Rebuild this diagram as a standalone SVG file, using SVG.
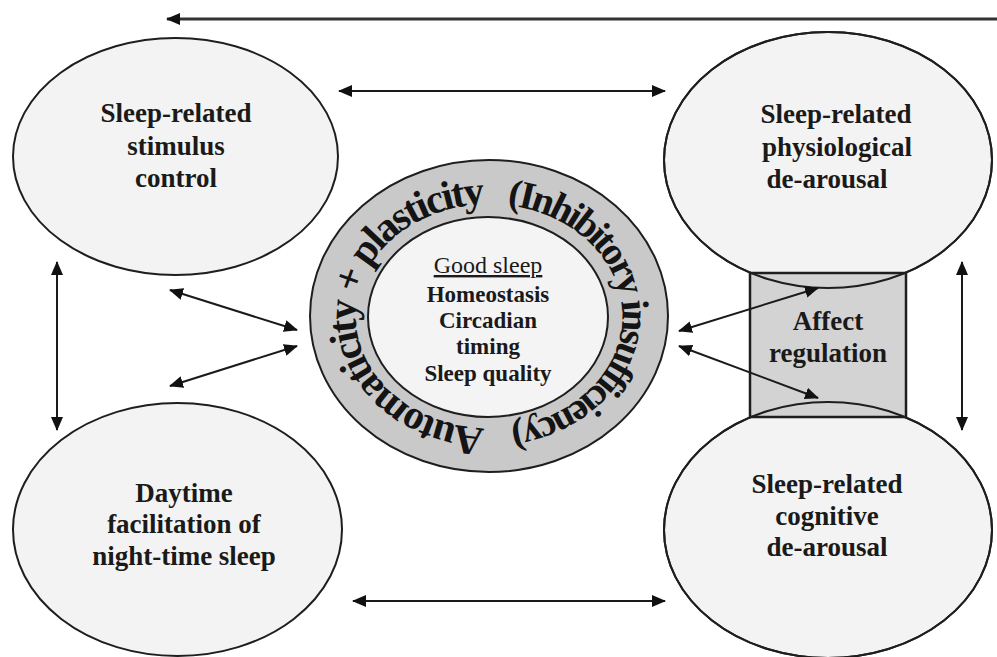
<svg xmlns="http://www.w3.org/2000/svg" xmlns:xlink="http://www.w3.org/1999/xlink" width="997" height="657" viewBox="0 0 997 657">
  <style>
    .node { fill: #f3f3f3; stroke: #1e1e1e; stroke-width: 2; }
    .outline { fill: none; stroke: #1e1e1e; stroke-width: 2; }
    .label { font-family: "Liberation Serif", "Times New Roman", serif; font-weight: bold; font-size: 27px; fill: #1a1a1a; text-anchor: middle; }
    .inner { font-family: "Liberation Serif", "Times New Roman", serif; font-weight: bold; font-size: 23px; fill: #1a1a1a; text-anchor: middle; }
    .ring-text { font-family: "Liberation Serif", "Times New Roman", serif; font-weight: bold; font-size: 41px; fill: #141414; }
    .conn { stroke: #1a1a1a; stroke-width: 2; fill: none; marker-start: url(#head); marker-end: url(#head); }
  </style>
  <defs>
    <marker id="head" viewBox="0 0 14 12" refX="13" refY="6" markerWidth="14" markerHeight="12" markerUnits="userSpaceOnUse" orient="auto-start-reverse">
      <path d="M0,0 L14,6 L0,12 z" fill="#111"/>
    </marker>
    <ellipse id="shape-physio" cx="828" cy="160" rx="164" ry="128"/>
    <ellipse id="shape-cog" cx="828" cy="530" rx="164" ry="128"/>
    <!-- baseline of the ring caption: full ellipse starting just left of the bottom, running clockwise -->
    <path id="ring-path" d="M484.32,427.93 A134,112 0 0 1 493.68,204.07 A134,112 0 0 1 484.32,427.93"/>
  </defs>

  <rect width="997" height="657" fill="#ffffff"/>

  <!-- nodes -->
  <g id="stimulus-control">
    <ellipse class="node" cx="175.5" cy="156.5" rx="162.5" ry="118.5"/>
    <text class="label" x="176" y="122">Sleep-related</text>
    <text class="label" x="176" y="155">stimulus</text>
    <text class="label" x="176" y="187">control</text>
  </g>

  <g id="daytime-facilitation">
    <ellipse class="node" cx="177.5" cy="529.5" rx="164.5" ry="126.5"/>
    <text class="label" x="184" y="502">Daytime</text>
    <text class="label" x="184" y="533">facilitation of</text>
    <text class="label" x="184" y="565">night-time sleep</text>
  </g>

  <g id="physiological-dearousal">
    <use href="#shape-physio" class="node"/>
    <text class="label" x="836" y="123">Sleep-related</text>
    <text class="label" x="837" y="156">physiological</text>
    <text class="label" x="827" y="188">de-arousal</text>
  </g>

  <g id="cognitive-dearousal">
    <use href="#shape-cog" class="node"/>
    <text class="label" x="827" y="493">Sleep-related</text>
    <text class="label" x="827" y="525">cognitive</text>
    <text class="label" x="827" y="556">de-arousal</text>
  </g>

  <g id="affect-regulation">
    <rect x="750" y="273" width="156" height="144" fill="#d3d3d3" stroke="#1e1e1e" stroke-width="2.5"/>
    <!-- ellipse rims drawn over the box -->
    <use href="#shape-physio" class="outline"/>
    <use href="#shape-cog" class="outline"/>
    <text class="label" x="828" y="330">Affect</text>
    <text class="label" x="828" y="362">regulation</text>
  </g>

  <g id="good-sleep">
    <ellipse cx="489" cy="316" rx="179" ry="156" fill="#c9c9c9" stroke="#1e1e1e" stroke-width="2"/>
    <ellipse cx="488" cy="317" rx="120" ry="100" fill="#f4f4f4" stroke="#1e1e1e" stroke-width="2"/>
    <!-- ring caption, set in two runs along the same baseline -->
    <text class="ring-text"><textPath href="#ring-path" startOffset="0" textLength="377" lengthAdjust="spacing">Automaticity + plasticity</textPath></text>
    <text class="ring-text" style="font-size:39px"><textPath href="#ring-path" startOffset="399" textLength="346" lengthAdjust="spacing">(Inhibitory insufficiency)</textPath></text>
    <text class="inner" x="488" y="273" style="font-weight:normal;font-size:24px" text-decoration="underline">Good sleep</text>
    <text class="inner" x="488" y="302">Homeostasis</text>
    <text class="inner" x="488" y="328">Circadian</text>
    <text class="inner" x="488" y="354">timing</text>
    <text class="inner" x="488" y="381">Sleep quality</text>
  </g>

  <!-- connectors -->
  <g id="connectors">
    <line x1="997" y1="19" x2="167" y2="19" stroke="#333" stroke-width="3" marker-end="url(#head)"/>
    <line class="conn" x1="339" y1="91" x2="665" y2="91"/>
    <line class="conn" x1="353" y1="601" x2="665" y2="601"/>
    <line class="conn" x1="57" y1="262" x2="57" y2="430"/>
    <line class="conn" x1="962" y1="262" x2="962" y2="430"/>
    <line class="conn" x1="170" y1="290" x2="297" y2="330"/>
    <line class="conn" x1="170" y1="386" x2="297" y2="346"/>
    <line class="conn" x1="679" y1="331" x2="818" y2="288"/>
    <line class="conn" x1="679" y1="346" x2="818" y2="398"/>
  </g>
</svg>
